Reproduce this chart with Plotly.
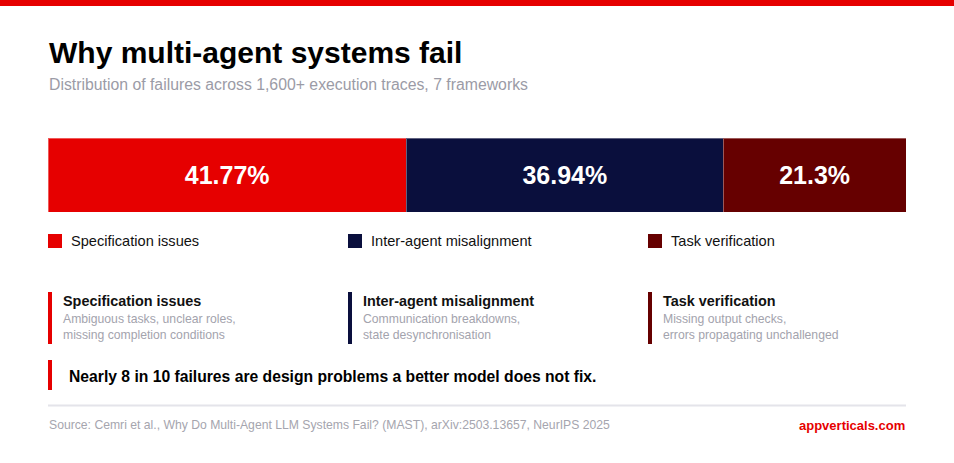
import plotly.graph_objects as go

W, H = 954, 463
FONT = "Liberation Sans, Arial, sans-serif"

categories = ["Specification issues", "Inter-agent misalignment", "Task verification"]
shares = [41.77, 36.94, 21.3]
colors = ["#e60000", "#0a0f3d", "#660000"]
descriptions = [
    "Ambiguous tasks, unclear roles,<br>missing completion conditions",
    "Communication breakdowns,<br>state desynchronisation",
    "Missing output checks,<br>errors propagating unchallenged",
]
title = "Why multi-agent systems fail"
subtitle = "Distribution of failures across 1,600+ execution traces, 7 frameworks"
callout = "Nearly 8 in 10 failures are design problems a better model does not fix."
source = "Source: Cemri et al., Why Do Multi-Agent LLM Systems Fail? (MAST), arXiv:2503.13657, NeurIPS 2025"
brand = "appverticals.com"


def px(x):
    return x / W


def py(y):
    return 1 - y / H


fig = go.Figure()
for cat, val, col in zip(categories, shares, colors):
    fig.add_trace(go.Bar(
        x=[val], y=["all"], orientation="h", name=cat,
        marker=dict(color=col, line=dict(color="rgba(255,255,255,0.35)", width=1)),
        text=[f"{val}%"], textposition="inside", insidetextanchor="middle",
        textfont=dict(family=FONT, size=25, color="white", weight="bold"),
        width=1, showlegend=False, hoverinfo="skip",
    ))

shapes = []
annotations = []

# top accent strip
shapes.append(dict(type="rect", xref="paper", yref="paper", x0=0, x1=1, y0=py(6), y1=1,
                   fillcolor="#e60000", line=dict(width=0), layer="above"))

annotations.append(dict(text=f"<b>{title}</b>", x=px(47), y=py(52), xref="paper", yref="paper",
                        xanchor="left", yanchor="middle", showarrow=False,
                        font=dict(family=FONT, size=30, color="#000000")))
annotations.append(dict(text=subtitle, x=px(47), y=py(85), xref="paper", yref="paper",
                        xanchor="left", yanchor="middle", showarrow=False,
                        font=dict(family=FONT, size=15.8, color="#9b9ba6")))

col_x = [48, 348, 648]
for i, (cat, col, desc) in enumerate(zip(categories, colors, descriptions)):
    x0 = col_x[i]
    # legend swatch + label
    shapes.append(dict(type="rect", xref="paper", yref="paper", x0=px(x0), x1=px(x0 + 14),
                       y0=py(248), y1=py(234), fillcolor=col, line=dict(width=0)))
    annotations.append(dict(text=cat, x=px(x0 + 21), y=py(241), xref="paper", yref="paper",
                            xanchor="left", yanchor="middle", showarrow=False,
                            font=dict(family=FONT, size=14.6, color="#111111")))
    # card
    shapes.append(dict(type="rect", xref="paper", yref="paper", x0=px(x0), x1=px(x0 + 4),
                       y0=py(344), y1=py(292), fillcolor=col, line=dict(width=0)))
    annotations.append(dict(text=f"<b>{cat}</b>", x=px(x0 + 13), y=py(301), xref="paper", yref="paper",
                            xanchor="left", yanchor="middle", showarrow=False,
                            font=dict(family=FONT, size=14.4, color="#111111")))
    annotations.append(dict(text=desc, x=px(x0 + 13), y=py(327), xref="paper", yref="paper",
                            xanchor="left", yanchor="middle", align="left", showarrow=False,
                            font=dict(family=FONT, size=12.2, color="#a3a3ad")))

# callout
shapes.append(dict(type="rect", xref="paper", yref="paper", x0=px(48), x1=px(52),
                   y0=py(390), y1=py(360), fillcolor="#e60000", line=dict(width=0)))
annotations.append(dict(text=f"<b>{callout}</b>", x=px(67), y=py(376), xref="paper", yref="paper",
                        xanchor="left", yanchor="middle", showarrow=False,
                        font=dict(family=FONT, size=15.7, color="#000000")))

# footer
shapes.append(dict(type="line", xref="paper", yref="paper", x0=px(48), x1=px(906),
                   y0=py(405.5), y1=py(405.5), line=dict(color="#e4e4ea", width=2)))
annotations.append(dict(text=source, x=px(47), y=py(425), xref="paper", yref="paper",
                        xanchor="left", yanchor="middle", showarrow=False,
                        font=dict(family=FONT, size=12.2, color="#a5a5ae")))
annotations.append(dict(text=f"<b>{brand}</b>", x=px(907), y=py(425), xref="paper", yref="paper",
                        xanchor="right", yanchor="middle", showarrow=False,
                        font=dict(family=FONT, size=13, color="#e60000")))

fig.update_layout(
    width=W, height=H, barmode="stack",
    margin=dict(l=0, r=0, t=0, b=0),
    paper_bgcolor="white", plot_bgcolor="white",
    xaxis=dict(domain=[px(48), px(906)], range=[0, sum(shares)], visible=False, fixedrange=True),
    yaxis=dict(domain=[py(212), py(138)], range=[-0.5, 0.5], visible=False, fixedrange=True),
    shapes=shapes, annotations=annotations,
)

fig.write_html("out.html", config={"displayModeBar": False})
